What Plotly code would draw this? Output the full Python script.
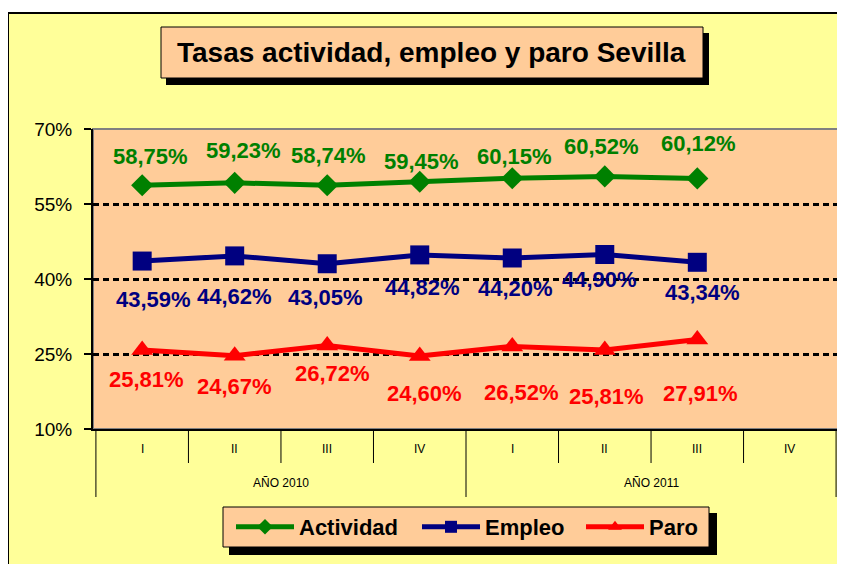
import plotly.graph_objects as go

years = ["AÑO 2010"] * 4 + ["AÑO 2011"] * 4
quarters = ["I", "II", "III", "IV", "I", "II", "III", "IV"]

actividad = [58.75, 59.23, 58.74, 59.45, 60.15, 60.52, 60.12, None]
empleo = [43.59, 44.62, 43.05, 44.82, 44.20, 44.90, 43.34, None]
paro = [25.81, 24.67, 26.72, 24.60, 26.52, 25.81, 27.91, None]

y_ticks = [10, 25, 40, 55, 70]
y_ticktext = ["10%", "25%", "40%", "55%", "70%"]

# label offsets (px) as placed in the original
act_shift = [(8, -29), (9, -32), (1, -30), (2, -20), (2, -22), (-3, -30), (1, -35)]
emp_shift = [(11, 38), (0, 41), (-2, 34), (3, 33), (3, 30), (-5, 25), (5, 30)]
par_shift = [(4, 30), (0, 31), (5, 28), (5, 37), (9, 46), (2, 47), (3, 54)]

GREEN = "#008000"
NAVY = "#000080"
RED = "#FF0000"
PEACH = "#FFCC99"
YELLOW = "#FFFF99"
FONT = "Liberation Sans, Arial, sans-serif"

OFF = 8  # page body margin
W, H = 845, 564
# plot area in page pixels: x 93..839, y 129..429
L = 93 - OFF
T = 129 - OFF
R = W - (839 - OFF)
B = H - (429 - OFF)
PW, PH = W - L - R, H - T - B


def xp(px):
    return (px - OFF - L) / PW


def yp(py):
    return (H - B - (py - OFF)) / PH


fig = go.Figure()
series = [
    ("Actividad", actividad, GREEN, "diamond", 17, act_shift, "legend", 237),
    ("Empleo", empleo, NAVY, "square", 19, emp_shift, "legend2", 423),
    ("Paro", paro, RED, "triangle-up", 19, par_shift, "legend3", 587),
]
for name, vals, col, sym, ms, _, lg, _lx in series:
    fig.add_trace(go.Scatter(
        x=[years, quarters], y=vals, name=name, mode="lines+markers",
        line=dict(color=col, width=5),
        marker=dict(symbol=sym, size=ms, color=col),
        cliponaxis=False, connectgaps=False, legend=lg,
    ))

annotations = []
for name, vals, col, sym, ms, shifts, _lg, _lx in series:
    for i, v in enumerate(vals):
        if v is None:
            continue
        dx, dy = shifts[i]
        annotations.append(dict(
            x=i, y=v, xref="x", yref="y",
            text=f"{v:.2f}%".replace(".", ","),
            showarrow=False, xshift=dx, yshift=-dy,
            font=dict(family=FONT, size=22, color=col, weight="bold"),
        ))

# category labels (quarters and years)
for i, q in enumerate(quarters):
    annotations.append(dict(
        x=i, y=yp(449), xref="x", yref="paper", text=q, showarrow=False,
        font=dict(family=FONT, size=12, color="black"), yanchor="middle",
    ))
year_names = list(dict.fromkeys(years))
for yname in year_names:
    idx = [i for i, y in enumerate(years) if y == yname]
    annotations.append(dict(
        x=(idx[0] + idx[-1]) / 2, y=yp(483), xref="x", yref="paper", text=yname,
        showarrow=False, font=dict(family=FONT, size=12, color="black"), yanchor="middle",
    ))

# title text
annotations.append(dict(
    x=xp(431), y=yp(53), xref="paper", yref="paper",
    text="<b>Tasas actividad, empleo y paro Sevilla</b>", showarrow=False,
    font=dict(family=FONT, size=28, color="black"),
    xanchor="center", yanchor="middle",
))

shapes = [
    # outer chart area
    dict(type="rect", xref="paper", yref="paper", layer="below",
         x0=xp(8), x1=xp(870), y0=yp(590), y1=yp(13),
         fillcolor=YELLOW, line=dict(color="black", width=2)),
    # plot area
    dict(type="rect", xref="paper", yref="paper", layer="below",
         x0=0, x1=1, y0=0, y1=1, fillcolor=PEACH,
         line=dict(color="#808080", width=2)),
    # title shadow and box
    dict(type="rect", xref="paper", yref="paper", layer="below",
         x0=xp(166), x1=xp(709), y0=yp(85), y1=yp(33),
         fillcolor="black", line=dict(width=0)),
    dict(type="rect", xref="paper", yref="paper", layer="below",
         x0=xp(161), x1=xp(703), y0=yp(78), y1=yp(27),
         fillcolor=PEACH, line=dict(color="black", width=1)),
    # legend shadow and box
    dict(type="rect", xref="paper", yref="paper", layer="below",
         x0=xp(229), x1=xp(717), y0=yp(555), y1=yp(513),
         fillcolor="black", line=dict(width=0)),
    dict(type="rect", xref="paper", yref="paper", layer="below",
         x0=xp(223), x1=xp(709), y0=yp(547), y1=yp(507),
         fillcolor=PEACH, line=dict(color="black", width=1)),
]
# category boundaries below the axis
n = len(quarters)
for i in range(n + 1):
    b = i - 0.5
    is_div = i == 0 or i == n or years[i - 1] != years[i]
    shapes.append(dict(
        type="line", xref="x", yref="paper", layer="below",
        x0=b, x1=b, y0=0, y1=yp(497) if is_div else yp(463),
        line=dict(color="black", width=1),
    ))

legend_common = dict(
    orientation="h", xref="container", yref="container",
    xanchor="left", yanchor="middle",
    bgcolor="rgba(0,0,0,0)", borderwidth=0,
    font=dict(family=FONT, size=22, color="black", weight="bold"),
    itemwidth=58, itemsizing="constant",
)
legends = {}
for name, vals, col, sym, ms, shifts, lg, lx in series:
    legends[lg] = dict(legend_common, x=(lx - 6 - OFF) / W, y=(H - (527 - OFF)) / H)

fig.update_layout(
    width=W, height=H,
    margin=dict(l=L, r=R, t=T, b=B, pad=0, autoexpand=False),
    paper_bgcolor="white",
    plot_bgcolor="rgba(0,0,0,0)",
    font=dict(family=FONT, color="black"),
    showlegend=True,
    annotations=annotations,
    shapes=shapes,
    **legends,
)
fig.update_yaxes(
    range=[10, 70], tickvals=y_ticks, ticktext=y_ticktext,
    showgrid=True, gridcolor="black", gridwidth=3, griddash="6px,4px",
    showline=True, linecolor="black", linewidth=2,
    ticks="outside", ticklen=7, tickwidth=2, tickcolor="black",
    tickfont=dict(size=19, family=FONT),
    ticklabelstandoff=8, zeroline=False, automargin=False,
)
fig.update_xaxes(
    type="multicategory", showgrid=False,
    showline=True, linecolor="black", linewidth=2,
    ticks="", showticklabels=False, showdividers=False, automargin=False,
)

fig.write_html("out.html")
